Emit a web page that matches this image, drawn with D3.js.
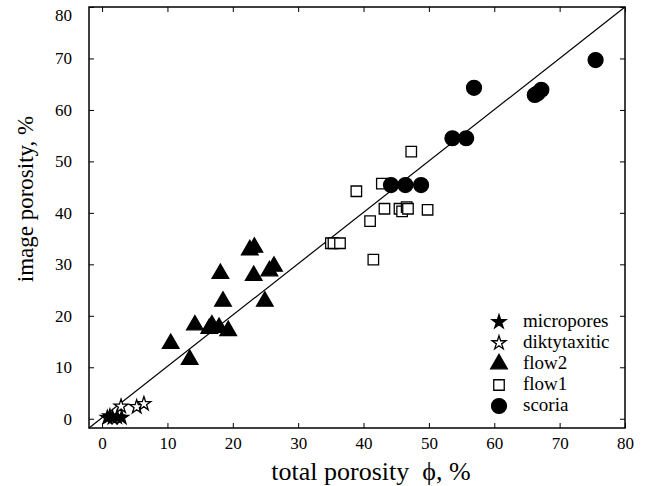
<!DOCTYPE html>
<html>
<head>
<meta charset="utf-8">
<style>
body { margin: 0; background: #fff; }
text { font-family: "Liberation Serif", "Times New Roman", serif; fill: #000; }
.axis path, .axis line { fill: none; stroke: #000; }
</style>
</head>
<body>
<script src="https://cdn.jsdelivr.net/npm/d3@7"></script>
<script>

// [total porosity, image porosity] pairs
var micropores = [[0.8, 0.2], [1.2, 0.5], [1.6, 0.2], [2.3, 0.3], [3.0, 0.2]];
var diktytaxitic = [[2.9, 2.4], [5.3, 2.3], [6.4, 2.9]];
var flow2 = [[10.5, 14.6], [13.4, 11.5], [14.2, 18.2], [16.4, 17.5], [16.8, 18.2],
  [17.9, 17.7], [19.3, 17.1], [18.1, 28.2], [18.5, 22.8], [22.6, 32.8], [23.3, 33.3],
  [23.2, 27.8], [24.9, 22.8], [25.6, 28.7], [26.3, 29.6]];
var flow1 = [[35.0, 34.1], [35.4, 34.1], [36.4, 34.1], [38.9, 44.2], [41.0, 38.4],
  [41.5, 30.9], [42.8, 45.7], [43.2, 40.8], [45.5, 40.8], [45.9, 40.3], [46.6, 41.1],
  [46.8, 40.8], [47.3, 51.9], [49.8, 40.6]];
var scoria = [[44.2, 45.4], [46.4, 45.4], [48.8, 45.4], [53.6, 54.5], [55.7, 54.5],
  [56.9, 64.3], [66.2, 62.9], [66.6, 63.2], [67.2, 63.9], [75.5, 69.7]];

var ticks = [0, 10, 20, 30, 40, 50, 60, 70, 80];
var legendNames = ["micropores", "diktytaxitic", "flow2", "flow1", "scoria"];

var width = 650, height = 486;
var pLeft = 89, pRight = 625, pTop = 7, pBottom = 428;

var x = d3.scaleLinear().domain([-2, 80]).range([pLeft, pRight]);
var y = d3.scaleLinear().domain([-1.8, 80]).range([pBottom, pTop]);

var svg = d3.select("body").append("svg")
    .attr("width", width)
    .attr("height", height);

// frame
svg.append("rect")
    .attr("x", pLeft).attr("y", pTop)
    .attr("width", pRight - pLeft).attr("height", pBottom - pTop)
    .attr("fill", "none").attr("stroke", "#000").attr("stroke-width", 1.5);

// axes with inward ticks
svg.append("g").attr("class", "axis")
    .attr("transform", "translate(0," + pBottom + ")")
    .call(d3.axisBottom(x).tickValues(ticks).tickSizeInner(-5).tickSizeOuter(0).tickPadding(9))
    .call(function(g) { g.select(".domain").remove(); })
    .selectAll("text").style("font-size", "17px");

svg.append("g").attr("class", "axis")
    .attr("transform", "translate(0," + pTop + ")")
    .call(d3.axisTop(x).tickValues(ticks).tickSizeInner(-5).tickSizeOuter(0).tickFormat(""))
    .call(function(g) { g.select(".domain").remove(); });

var yAxisG = svg.append("g").attr("class", "axis")
    .attr("transform", "translate(" + pLeft + ",0)")
    .call(d3.axisLeft(y).tickValues(ticks).tickSizeInner(-5).tickSizeOuter(0).tickPadding(17))
    .call(function(g) { g.select(".domain").remove(); });
yAxisG.selectAll("text").style("font-size", "17px");
// top label sits a bit lower so it isn't cut off
yAxisG.selectAll("text").filter(function(d) { return d === 80; }).attr("y", 8);

svg.append("g").attr("class", "axis")
    .attr("transform", "translate(" + pRight + ",0)")
    .call(d3.axisRight(y).tickValues(ticks).tickSizeInner(-5).tickSizeOuter(0).tickFormat(""))
    .call(function(g) { g.select(".domain").remove(); });

svg.selectAll(".axis text").attr("fill", "#000");

// 1:1 line
svg.append("line")
    .attr("x1", x(-2)).attr("y1", y(-1.8))
    .attr("x2", x(80)).attr("y2", y(80))
    .attr("stroke", "#000").attr("stroke-width", 1.2);

var styles = {
  micropores:   { data: micropores,   type: d3.symbolStar,     size: 60,  fill: "#000" },
  diktytaxitic: { data: diktytaxitic, type: d3.symbolStar,     size: 60,  fill: "#fff" },
  flow2:        { data: flow2,        type: d3.symbolTriangle, size: 120, fill: "#000" },
  flow1:        { data: flow1,        type: d3.symbolSquare,   size: 110, fill: "#fff" },
  scoria:       { data: scoria,       type: d3.symbolCircle,   size: 175, fill: "#000" }
};

var drawOrder = ["flow1", "flow2", "diktytaxitic", "micropores", "scoria"];
drawOrder.forEach(function(name) {
  var s = styles[name];
  var sym = d3.symbol().type(s.type).size(s.size);
  svg.append("g").selectAll("path")
      .data(s.data)
    .enter().append("path")
      .attr("d", sym)
      .attr("transform", function(d) { return "translate(" + x(d[0]) + "," + y(d[1]) + ")"; })
      .attr("fill", s.fill)
      .attr("stroke", "#000")
      .attr("stroke-width", 1.3);
});

// legend
var legend = svg.append("g").attr("transform", "translate(499,322)");
legendNames.forEach(function(name, i) {
  var s = styles[name];
  var row = legend.append("g").attr("transform", "translate(0," + i * 21 + ")");
  row.append("path")
      .attr("d", d3.symbol().type(s.type).size(s.size)())
      .attr("fill", s.fill)
      .attr("stroke", "#000")
      .attr("stroke-width", 1.3);
  row.append("text")
      .attr("x", 24).attr("y", 5)
      .style("font-size", "19px")
      .text(name);
});

// axis titles
svg.append("text")
    .attr("x", 371).attr("y", 480)
    .attr("text-anchor", "middle")
    .style("font-size", "26px")
    .text("total porosity\u00A0\u00A0\u03D5, %");

svg.append("text")
    .attr("transform", "translate(33,199) rotate(-90)")
    .attr("text-anchor", "middle")
    .style("font-size", "23px")
    .text("image porosity, %");

</script>
</body>
</html>
